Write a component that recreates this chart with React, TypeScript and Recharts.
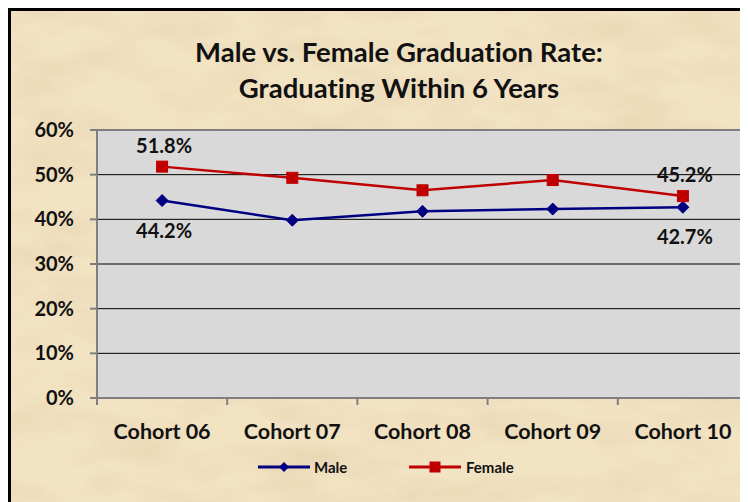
import React from 'react';
import { LineChart, Line, XAxis, YAxis, CartesianGrid, LabelList, ReferenceLine } from 'recharts';

const categories = ['Cohort 06', 'Cohort 07', 'Cohort 08', 'Cohort 09', 'Cohort 10'];
const maleRates = [0.442, 0.398, 0.418, 0.423, 0.427];
const femaleRates = [0.518, 0.493, 0.465, 0.488, 0.452];
const yTicks = [0, 0.1, 0.2, 0.3, 0.4, 0.5, 0.6];
const labeledIndices = [0, 4];
const titleLines = ['Male vs. Female Graduation Rate:', 'Graduating Within 6 Years'];
const seriesNames = ['Male', 'Female'];

const data = categories.map((c, i) => ({ cohort: c, male: maleRates[i], female: femaleRates[i] }));

const FONT = 'Lato, "Open Sans", sans-serif';
const MALE = '#000080';
const FEMALE = '#C00000';
const AXIS = '#7F7F7F';
const noLig = { fontVariantLigatures: 'none' as const };

const pct1 = (v: number) => `${(v * 100).toFixed(1)}%`;
const pct0 = (v: number) => `${Math.round(v * 100)}%`;

const Diamond = (props: any) => {
  const { cx, cy } = props;
  if (cx == null || cy == null) return null;
  const s = 6;
  return <path d={`M${cx},${cy - s}L${cx + s},${cy}L${cx},${cy + s}L${cx - s},${cy}Z`} fill={MALE} stroke={MALE} />;
};

const Square = (props: any) => {
  const { cx, cy } = props;
  if (cx == null || cy == null) return null;
  const s = 5.5;
  return <rect x={cx - s} y={cy - s} width={2 * s} height={2 * s} fill={FEMALE} stroke={FEMALE} />;
};

const makeLabel = (below: boolean) => (props: any) => {
  const { x, y, value, index } = props;
  if (!labeledIndices.includes(index)) return null;
  return (
    <text
      x={x + 2}
      y={below ? y + 29 : y - 22}
      textAnchor="middle"
      dominantBaseline="central"
      fontFamily={FONT}
      fontWeight={700}
      fontSize={20}
      fill="#111"
      style={noLig}
    >
      {pct1(value)}
    </text>
  );
};

const XTick = (props: any) => {
  const { x, y, payload, index, width, visibleTicksCount } = props;
  const n = visibleTicksCount || categories.length;
  const bw = (width || 650) / n;
  const lx = x - bw / 2;
  return (
    <g>
      <line x1={lx} y1={y} x2={lx} y2={y + 7} stroke={AXIS} strokeWidth={2} />
      {index === n - 1 && <line x1={x + bw / 2} y1={y} x2={x + bw / 2} y2={y + 7} stroke={AXIS} strokeWidth={2} />}
      <text x={x} y={y + 33} textAnchor="middle" dominantBaseline="central" fontFamily={FONT} fontWeight={700} fontSize={21.5} fill="#111" style={noLig}>
        {payload.value}
      </text>
    </g>
  );
};

export default function App() {
  return (
    <div
      style={{
        position: 'relative',
        width: 740,
        height: 494,
        boxSizing: 'border-box',
        borderLeft: '3px solid #000',
        borderTop: '3px solid #000',
        background: '#EFDDB8',
        overflow: 'hidden',
        fontFamily: FONT,
        ...noLig,
      }}
    >
      <svg width={737} height={491} style={{ position: 'absolute', left: 0, top: 0 }}>
        <defs>
          <filter id="paper" x="0" y="0" width="100%" height="100%">
            <feTurbulence type="fractalNoise" baseFrequency="0.012 0.03" numOctaves={4} seed={7} />
            <feColorMatrix type="matrix" values="0 0 0 0 0.80  0 0 0 0 0.66  0 0 0 0 0.44  1.8 0 0 0 -0.7" />
          </filter>
        </defs>
        <rect width={737} height={491} fill="#F2E3C3" />
        <rect width={737} height={491} filter="url(#paper)" opacity={0.8} />
      </svg>

      <div style={{ position: 'absolute', left: 0, top: 23, width: 776, textAlign: 'center', fontWeight: 700, fontSize: 27.5, lineHeight: '36px', color: '#111' }}>
        {titleLines.map((t) => (
          <div key={t}>{t}</div>
        ))}
      </div>

      <LineChart
        width={737}
        height={491}
        data={data}
        margin={{ top: 119, right: 0, left: 0, bottom: 64 }}
        style={{ position: 'absolute', left: 0, top: 0 }}
      >
        <CartesianGrid vertical={false} stroke="#000" strokeWidth={1} fill="#D9D9D9" fillOpacity={1} />
        <ReferenceLine y={0.6} stroke={AXIS} strokeWidth={2} />
        <XAxis
          dataKey="cohort"
          scale="band"
          height={40}
          axisLine={{ stroke: AXIS, strokeWidth: 2 }}
          tickLine={false}
          tickSize={0}
          tickMargin={0}
          tick={<XTick />}
          interval={0}
        />
        <YAxis
          width={86}
          domain={[0, 0.6]}
          ticks={yTicks}
          tickFormatter={pct0}
          axisLine={{ stroke: AXIS, strokeWidth: 2 }}
          tickLine={{ stroke: AXIS, strokeWidth: 2 }}
          tickSize={7}
          tickMargin={16}
          tick={{ fontFamily: FONT, fontWeight: 700, fontSize: 20, fill: '#111' }}
          interval={0}
        />
        <Line dataKey="male" name={seriesNames[0]} stroke={MALE} strokeWidth={2.5} dot={<Diamond />} activeDot={false} isAnimationActive={false}>
          <LabelList dataKey="male" content={makeLabel(true)} />
        </Line>
        <Line dataKey="female" name={seriesNames[1]} stroke={FEMALE} strokeWidth={2.5} dot={<Square />} activeDot={false} isAnimationActive={false}>
          <LabelList dataKey="female" content={makeLabel(false)} />
        </Line>
      </LineChart>

      <div style={{ position: 'absolute', left: 246, top: 447, display: 'flex', alignItems: 'center', fontWeight: 700, fontSize: 15, color: '#111' }}>
        <svg width={54} height={16}>
          <line x1={1} y1={8} x2={53} y2={8} stroke={MALE} strokeWidth={3} />
          <path d="M27,3L32,8L27,13L22,8Z" fill={MALE} />
        </svg>
        <span style={{ marginLeft: 3, width: 94 }}>{seriesNames[0]}</span>
        <svg width={54} height={16}>
          <line x1={1} y1={8} x2={53} y2={8} stroke={FEMALE} strokeWidth={3} />
          <rect x={21.5} y={2.5} width={11} height={11} fill={FEMALE} />
        </svg>
        <span style={{ marginLeft: 4 }}>{seriesNames[1]}</span>
      </div>
    </div>
  );
}
